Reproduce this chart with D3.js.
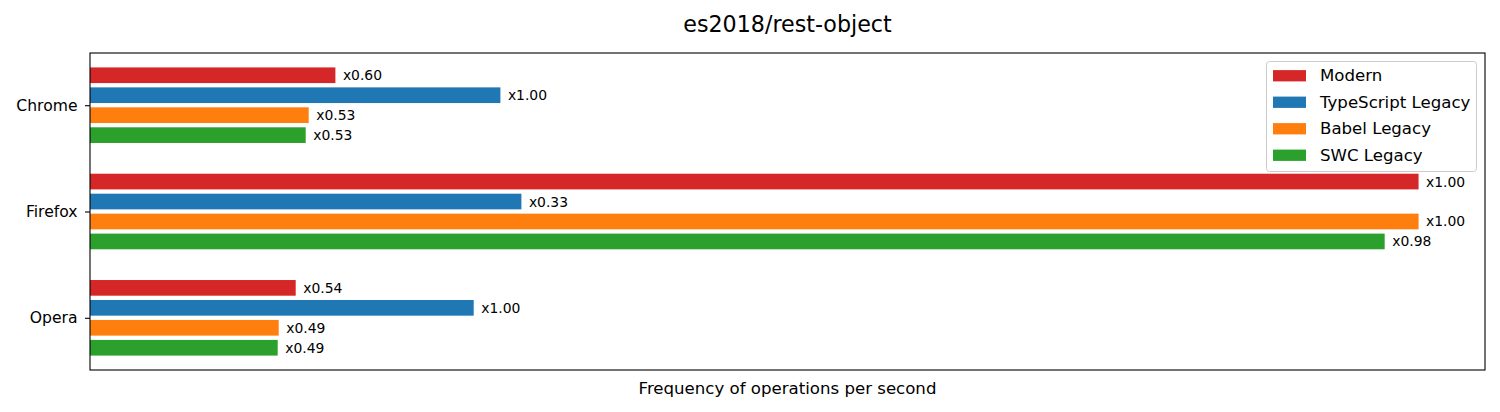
<!DOCTYPE html>
<html>
<head>
<meta charset="utf-8">
<script src="https://cdn.jsdelivr.net/npm/d3@7"></script>
<style>
  html, body { margin: 0; padding: 0; background: #fff; }
  svg { display: block; font-family: "DejaVu Sans", sans-serif; }
</style>
</head>
<body>
<svg id="chart" width="1500" height="412"></svg>
<script>
const title = "es2018/rest-object";
const xLabel = "Frequency of operations per second";
const categories = ["Chrome", "Firefox", "Opera"];
const seriesNames = ["Modern", "TypeScript Legacy", "Babel Legacy", "SWC Legacy"];
const seriesColors = ["#d62728", "#1f77b4", "#ff7f0e", "#2ca02c"];
// estimated ops/sec (relative units), per series, per category
const modernValues = [245.4, 1328.6, 205.7];
const typescriptValues = [410.4, 431.4, 383.7];
const babelValues = [218.7, 1328.6, 188.7];
const swcValues = [215.7, 1294.7, 187.7];
const modernLabels = ["x0.60", "x1.00", "x0.54"];
const typescriptLabels = ["x1.00", "x0.33", "x1.00"];
const babelLabels = ["x0.53", "x1.00", "x0.49"];
const swcLabels = ["x0.53", "x0.98", "x0.49"];

const seriesValues = [modernValues, typescriptValues, babelValues, swcValues];
const seriesLabels = [modernLabels, typescriptLabels, babelLabels, swcLabels];

(function () {
const svg = d3.select("#chart");
const pLeft = 90, pRight = 1485, pTop = 53, pBottom = 370;

const maxV = d3.max(seriesValues.flat());
const x = d3.scaleLinear().domain([0, maxV * 1.05]).range([pLeft, pRight]);

// y in category units
const pitch = 0.1878, barH = 0.1475;
const ext = 1.5 * pitch + barH / 2;
const span = (categories.length - 1) + 2 * ext;
const m = 0.05 * span;
const y = d3.scaleLinear().domain([-ext - m, categories.length - 1 + ext + m]).range([pTop, pBottom]);
const barPx = y(barH) - y(0);

// bars
seriesValues.forEach((vals, j) => {
  const g = svg.append("g");
  vals.forEach((v, i) => {
    const c = i + (j - 1.5) * pitch;
    g.append("rect")
      .attr("x", x(0))
      .attr("y", y(c) - barPx / 2)
      .attr("width", x(v) - x(0))
      .attr("height", barPx)
      .attr("fill", seriesColors[j]);
    g.append("text")
      .attr("x", x(v) + 7.5)
      .attr("y", y(c))
      .attr("dominant-baseline", "central")
      .attr("font-size", "13.9px")
      .attr("fill", "#000")
      .text(seriesLabels[j][i]);
  });
});

// axes frame
svg.append("rect")
  .attr("x", pLeft).attr("y", pTop)
  .attr("width", pRight - pLeft).attr("height", pBottom - pTop)
  .attr("fill", "none").attr("stroke", "#000").attr("stroke-width", 1.1);

// y axis ticks
const yAxis = d3.axisLeft(y)
  .tickValues(categories.map((d, i) => i))
  .tickFormat(i => categories[i])
  .tickSize(5).tickPadding(7.5);
const ya = svg.append("g").attr("transform", `translate(${pLeft},0)`).call(yAxis);
ya.select(".domain").remove();
ya.selectAll("line").attr("stroke", "#000").attr("stroke-width", 1.1);
ya.selectAll("text").attr("font-size", "15.6px").attr("fill", "#000")
  .attr("font-family", "DejaVu Sans, sans-serif");

// title
svg.append("text")
  .attr("x", (pLeft + pRight) / 2).attr("y", 32)
  .attr("text-anchor", "middle").attr("font-size", "22.2px").attr("fill", "#000")
  .text(title);

// x label
svg.append("text")
  .attr("x", (pLeft + pRight) / 2).attr("y", 394)
  .attr("text-anchor", "middle").attr("font-size", "16.6px").attr("fill", "#000")
  .text(xLabel);

// legend
const lg = svg.append("g");
lg.append("rect")
  .attr("x", 1266.5).attr("y", 61.5).attr("width", 210).attr("height", 110)
  .attr("rx", 3).attr("fill", "#fff").attr("fill-opacity", 0.8)
  .attr("stroke", "#ccc").attr("stroke-width", 1);
seriesNames.forEach((n, j) => {
  const cy = 75.7 + j * 26.5;
  lg.append("rect").attr("x", 1273).attr("y", cy - 5.6).attr("width", 33).attr("height", 11.3)
    .attr("fill", seriesColors[j]);
  lg.append("text").attr("x", 1320).attr("y", cy).attr("dominant-baseline", "central")
    .attr("font-size", "16.6px").attr("fill", "#000").text(n);
});
})();
</script>
</body>
</html>
